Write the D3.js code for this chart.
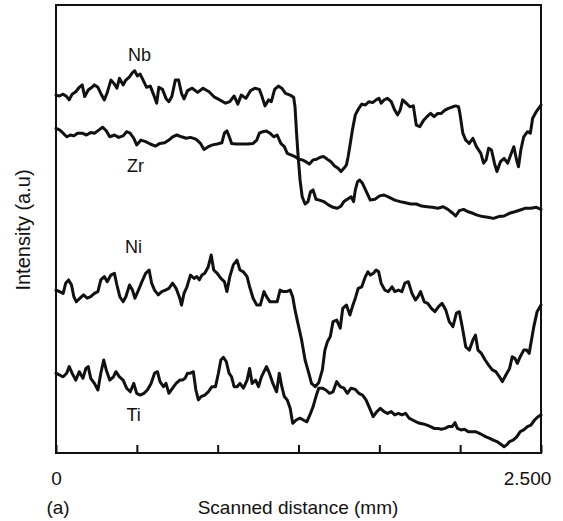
<!DOCTYPE html>
<html><head><meta charset="utf-8">
<script src="https://cdn.jsdelivr.net/npm/d3@7/dist/d3.min.js"></script>
<style>
body{margin:0;background:#fff}
text{font-family:"Liberation Sans",Arial,Helvetica,sans-serif;fill:#111}
</style>
</head><body>
<svg id="chart" width="563" height="521"></svg>
<script>
// Scanned distance (mm), intensity (a.u.)
const nb = [[0,119.3],[0.018,119.0],[0.037,119.6],[0.055,118.8],[0.068,117.7],[0.083,119.6],[0.102,120.4],[0.120,121.9],[0.135,122.7],[0.148,118.8],[0.166,121.0],[0.185,121.9],[0.198,122.7],[0.216,121.9],[0.235,119.3],[0.249,117.7],[0.264,120.1],[0.283,124.3],[0.301,123.0],[0.314,121.6],[0.327,124.9],[0.346,122.7],[0.360,124.3],[0.379,125.4],[0.394,126.8],[0.406,127.4],[0.419,125.7],[0.434,126.3],[0.449,124.3],[0.467,121.9],[0.486,122.3],[0.504,119.3],[0.519,116.6],[0.530,121.9],[0.549,121.2],[0.567,118.2],[0.582,117.1],[0.597,118.8],[0.615,124.3],[0.632,124.3],[0.647,119.9],[0.660,118.0],[0.678,120.8],[0.702,121.6],[0.730,120.2],[0.758,121.6],[0.789,120.4],[0.817,118.6],[0.844,117.7],[0.874,116.6],[0.896,117.1],[0.918,119.0],[0.937,116.3],[0.955,119.3],[0.979,118.2],[1.003,120.8],[1.025,121.6],[1.048,121.2],[1.062,118.8],[1.077,115.7],[1.096,117.7],[1.110,117.1],[1.127,121.2],[1.146,122.3],[1.164,121.6],[1.183,119.9],[1.207,119.3],[1.225,118.6],[1.232,115.4],[1.240,106.6],[1.247,99.9],[1.258,91.0],[1.269,85.4],[1.284,83.0],[1.299,83.8],[1.312,87.1],[1.325,87.7],[1.340,84.6],[1.358,84.3],[1.380,83.8],[1.404,82.7],[1.428,81.9],[1.450,81.6],[1.469,82.3],[1.484,83.8],[1.502,84.6],[1.521,85.4],[1.534,83.8],[1.543,87.7],[1.554,90.4],[1.565,91.0],[1.580,89.9],[1.598,87.4],[1.620,84.3],[1.644,84.6],[1.668,85.7],[1.691,86.0],[1.718,85.2],[1.746,84.3],[1.774,83.8],[1.801,83.4],[1.829,83.0],[1.857,83.0],[1.885,82.3],[1.912,82.1],[1.940,81.9],[1.968,81.6],[1.996,82.1],[2.020,81.2],[2.042,80.1],[2.060,79.0],[2.079,80.8],[2.101,81.2],[2.125,80.4],[2.149,79.9],[2.171,79.3],[2.199,78.8],[2.226,78.6],[2.254,78.2],[2.282,78.8],[2.310,79.0],[2.337,79.9],[2.365,80.4],[2.393,81.0],[2.421,81.6],[2.448,81.6],[2.476,81.9],[2.500,81.2]];

const zr = [[0,108.2],[0.018,107.7],[0.037,106.6],[0.055,105.4],[0.074,106.0],[0.092,105.7],[0.111,106.6],[0.135,106.6],[0.157,106.0],[0.179,106.8],[0.198,106.6],[0.222,107.7],[0.240,108.6],[0.259,107.4],[0.277,105.4],[0.301,106.0],[0.323,105.2],[0.346,105.7],[0.364,107.1],[0.382,106.6],[0.401,104.9],[0.416,102.7],[0.438,104.3],[0.462,103.8],[0.486,103.0],[0.512,102.3],[0.536,103.2],[0.560,103.4],[0.582,104.3],[0.601,105.4],[0.623,106.0],[0.647,105.4],[0.671,104.9],[0.693,105.2],[0.721,104.6],[0.745,103.2],[0.763,101.2],[0.785,102.1],[0.807,102.7],[0.831,103.0],[0.855,103.4],[0.868,106.6],[0.881,107.4],[0.896,104.9],[0.905,103.2],[0.929,103.0],[0.955,103.0],[0.988,103.0],[1.016,103.2],[1.035,104.3],[1.048,106.6],[1.066,107.1],[1.085,107.3],[1.103,106.6],[1.122,105.4],[1.140,106.0],[1.159,103.2],[1.177,102.1],[1.192,99.9],[1.214,99.3],[1.232,98.8],[1.251,97.9],[1.269,97.7],[1.288,97.1],[1.306,96.3],[1.325,97.7],[1.343,97.9],[1.362,98.6],[1.380,98.8],[1.399,97.9],[1.417,97.1],[1.436,95.7],[1.454,94.9],[1.469,93.8],[1.484,94.9],[1.497,96.0],[1.506,98.8],[1.517,103.2],[1.528,107.7],[1.543,112.7],[1.561,114.9],[1.576,116.3],[1.595,116.0],[1.613,117.1],[1.632,116.8],[1.650,117.7],[1.665,118.2],[1.676,116.6],[1.691,117.7],[1.709,118.2],[1.728,117.1],[1.746,114.3],[1.761,112.7],[1.774,114.3],[1.787,117.7],[1.805,116.6],[1.824,115.4],[1.842,115.7],[1.857,109.3],[1.875,108.8],[1.894,110.8],[1.912,112.1],[1.931,113.2],[1.949,112.1],[1.968,113.2],[1.986,113.2],[2.005,114.3],[2.023,114.9],[2.045,115.4],[2.060,115.7],[2.075,115.4],[2.082,113.2],[2.097,106.6],[2.112,104.3],[2.130,103.2],[2.149,104.9],[2.167,102.1],[2.190,99.9],[2.204,96.6],[2.217,97.7],[2.230,101.6],[2.245,101.0],[2.260,96.6],[2.273,93.8],[2.291,97.1],[2.310,98.2],[2.328,96.6],[2.347,99.9],[2.360,102.1],[2.374,97.7],[2.384,95.4],[2.396,101.0],[2.411,105.4],[2.430,107.1],[2.445,106.6],[2.457,111.6],[2.476,113.8],[2.500,116.0]];

const ni = [[0,54.3],[0.018,53.8],[0.037,53.2],[0.050,56.6],[0.065,57.7],[0.080,56.0],[0.092,52.1],[0.105,50.4],[0.124,51.6],[0.142,52.7],[0.161,51.6],[0.179,52.1],[0.198,53.2],[0.216,53.8],[0.231,57.7],[0.249,58.8],[0.264,57.1],[0.283,59.3],[0.301,59.9],[0.314,56.0],[0.329,52.1],[0.346,50.4],[0.360,52.1],[0.379,56.0],[0.394,54.3],[0.407,51.6],[0.425,54.3],[0.443,57.1],[0.462,59.9],[0.480,61.0],[0.493,56.6],[0.508,54.3],[0.527,52.7],[0.545,53.8],[0.564,54.3],[0.582,54.9],[0.601,56.6],[0.619,54.9],[0.638,51.6],[0.647,49.3],[0.660,53.2],[0.675,55.4],[0.693,59.3],[0.712,58.2],[0.726,58.8],[0.739,57.7],[0.752,59.3],[0.767,59.9],[0.785,62.1],[0.800,66.0],[0.813,61.0],[0.831,59.9],[0.850,58.2],[0.868,57.1],[0.881,53.8],[0.896,58.8],[0.914,62.7],[0.933,64.3],[0.948,61.0],[0.966,60.4],[0.985,58.8],[0.998,55.4],[1.016,51.6],[1.035,49.3],[1.053,49.3],[1.072,53.8],[1.085,52.1],[1.103,50.4],[1.122,50.4],[1.140,50.4],[1.155,54.3],[1.170,53.8],[1.188,53.8],[1.207,54.3],[1.220,52.1],[1.232,47.7],[1.247,43.2],[1.266,37.7],[1.284,31.0],[1.303,26.6],[1.317,23.2],[1.336,22.1],[1.354,23.4],[1.373,27.7],[1.386,34.3],[1.399,37.1],[1.414,38.8],[1.428,43.8],[1.447,44.3],[1.465,41.6],[1.478,48.2],[1.497,49.3],[1.515,46.0],[1.528,48.8],[1.543,51.6],[1.558,54.9],[1.576,55.4],[1.595,58.8],[1.608,60.4],[1.621,59.3],[1.636,59.9],[1.650,61.0],[1.663,60.4],[1.676,56.6],[1.695,54.3],[1.713,53.8],[1.732,55.4],[1.746,53.8],[1.765,54.3],[1.783,53.8],[1.798,56.6],[1.816,57.1],[1.835,53.2],[1.853,51.0],[1.866,52.1],[1.879,53.8],[1.898,50.4],[1.916,49.9],[1.935,48.2],[1.953,47.1],[1.972,48.8],[1.990,49.9],[2.009,47.7],[2.027,43.8],[2.046,42.1],[2.064,46.6],[2.079,47.1],[2.094,42.1],[2.112,35.4],[2.131,34.3],[2.149,37.7],[2.162,39.3],[2.175,34.3],[2.193,33.2],[2.212,31.0],[2.230,29.3],[2.249,27.7],[2.267,27.1],[2.286,25.4],[2.301,23.8],[2.319,26.0],[2.338,28.2],[2.352,32.1],[2.365,31.6],[2.378,29.9],[2.393,32.1],[2.411,34.3],[2.426,34.3],[2.439,33.2],[2.448,36.6],[2.463,42.1],[2.480,47.1],[2.500,49.3]];

const ti = [[0,26.6],[0.018,26.0],[0.037,25.4],[0.055,26.6],[0.068,28.8],[0.083,26.6],[0.102,24.3],[0.120,27.1],[0.139,24.9],[0.154,28.2],[0.166,28.8],[0.179,24.9],[0.198,23.2],[0.216,21.0],[0.231,26.6],[0.246,31.0],[0.259,27.7],[0.277,24.3],[0.296,25.4],[0.309,27.1],[0.327,25.4],[0.346,24.3],[0.364,21.6],[0.383,20.4],[0.401,23.2],[0.416,19.9],[0.434,19.3],[0.453,19.9],[0.471,21.0],[0.490,23.2],[0.508,26.6],[0.523,27.1],[0.536,23.8],[0.554,22.1],[0.567,23.2],[0.582,19.9],[0.601,21.6],[0.619,23.2],[0.638,24.3],[0.652,24.3],[0.665,24.9],[0.678,26.6],[0.693,26.6],[0.708,27.1],[0.721,21.0],[0.734,17.7],[0.748,18.8],[0.767,19.3],[0.785,20.4],[0.804,22.1],[0.822,22.1],[0.837,26.6],[0.850,31.0],[0.863,31.9],[0.878,30.4],[0.892,26.6],[0.905,25.4],[0.918,22.1],[0.933,22.1],[0.948,23.2],[0.966,21.6],[0.985,24.3],[0.998,28.2],[1.011,23.2],[1.029,24.3],[1.044,22.1],[1.059,25.4],[1.072,27.1],[1.085,28.8],[1.100,26.6],[1.118,23.2],[1.137,20.4],[1.151,26.6],[1.164,22.1],[1.177,18.8],[1.192,17.7],[1.207,14.9],[1.220,9.9],[1.238,11.0],[1.257,11.6],[1.275,11.0],[1.293,10.4],[1.312,13.2],[1.325,15.4],[1.340,18.8],[1.354,21.6],[1.373,21.6],[1.391,21.0],[1.410,19.9],[1.428,20.4],[1.447,23.8],[1.465,22.1],[1.484,21.6],[1.502,19.9],[1.521,21.6],[1.543,21.2],[1.561,19.9],[1.580,19.3],[1.598,17.7],[1.617,14.9],[1.635,12.1],[1.654,13.8],[1.672,14.9],[1.691,13.8],[1.709,13.2],[1.728,13.8],[1.746,12.7],[1.765,13.2],[1.783,12.7],[1.802,13.2],[1.820,11.6],[1.838,11.0],[1.857,10.4],[1.875,9.9],[1.894,9.7],[1.912,9.3],[1.931,8.8],[1.949,8.2],[1.968,8.2],[1.986,7.9],[2.005,8.2],[2.023,8.8],[2.042,8.8],[2.057,10.1],[2.069,8.2],[2.088,7.7],[2.106,7.9],[2.125,7.1],[2.143,7.1],[2.162,7.1],[2.180,6.6],[2.199,6.0],[2.217,5.4],[2.236,4.9],[2.254,4.3],[2.273,3.8],[2.291,3.0],[2.310,2.1],[2.323,2.7],[2.338,3.8],[2.356,4.3],[2.375,5.4],[2.393,7.1],[2.411,7.7],[2.430,8.8],[2.448,9.3],[2.467,11.0],[2.485,12.1],[2.500,12.7]];

const seriesNames = ["Nb", "Zr", "Ni", "Ti"];
// label anchor points (mm, a.u.)
const labelPos = [[0.43, 132.7], [0.41, 95.7], [0.40, 68.5], [0.40, 12.5]];
const xTicks = [0, 2.5/6, 2*2.5/6, 3*2.5/6, 4*2.5/6, 5*2.5/6, 2.5];
const xTickLabels = ["0", "", "", "", "", "", "2.500"];
const xTitle = "Scanned distance (mm)";
const yTitle = "Intensity (a.u)";
const panelTag = "(a)";

const svg = d3.select("#chart");
const m = {left: 56, right: 541, top: 5, bottom: 453};
const x = d3.scaleLinear().domain([0, 2.5]).range([m.left, m.right]);
const y = d3.scaleLinear().domain([0, 149.33]).range([m.bottom, m.top]);

const line = d3.line().x(d => x(d[0])).y(d => y(d[1]));
const data = [nb, zr, ni, ti];

svg.append("g").selectAll("path").data(data).join("path")
  .attr("d", line)
  .attr("fill", "none")
  .attr("stroke", "#111")
  .attr("stroke-width", 3)
  .attr("stroke-linejoin", "round")
  .attr("stroke-linecap", "round");

// frame
svg.append("rect")
  .attr("x", m.left).attr("y", m.top)
  .attr("width", m.right - m.left).attr("height", m.bottom - m.top)
  .attr("fill", "none").attr("stroke", "#111").attr("stroke-width", 2);

// x axis with inward ticks
const xAxis = d3.axisBottom(x).tickValues(xTicks)
  .tickSizeInner(-8).tickSizeOuter(0).tickPadding(19)
  .tickFormat((d, i) => xTickLabels[i]);
const gx = svg.append("g").attr("transform", `translate(0,${m.bottom})`).call(xAxis);
gx.select(".domain").remove();
gx.selectAll(".tick line").attr("stroke", "#111").attr("stroke-width", 2);
gx.selectAll(".tick text").attr("font-size", 19).attr("fill", "#111")
  .attr("font-family", '"Liberation Sans", Arial, sans-serif')
  .attr("dx", (d, i) => i === xTickLabels.length - 1 ? -14 : 0);

// series labels
svg.append("g").selectAll("text").data(seriesNames).join("text")
  .attr("x", (d, i) => x(labelPos[i][0]))
  .attr("y", (d, i) => y(labelPos[i][1]))
  .attr("text-anchor", "middle")
  .attr("dominant-baseline", "central")
  .attr("font-size", 18)
  .text(d => d);

svg.append("text").attr("x", 298).attr("y", 514)
  .attr("text-anchor", "middle").attr("font-size", 19).text(xTitle);
svg.append("text").attr("x", 58).attr("y", 514)
  .attr("text-anchor", "middle").attr("font-size", 19).text(panelTag);
svg.append("text")
  .attr("transform", "translate(30,230) rotate(-90)")
  .attr("text-anchor", "middle").attr("font-size", 20).text(yTitle);
</script>
</body></html>
